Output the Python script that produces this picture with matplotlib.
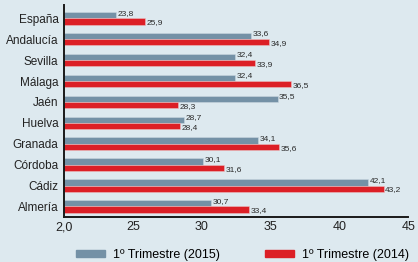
import matplotlib
matplotlib.use("Agg")
from matplotlib import pyplot as plt
from matplotlib.patches import Patch
import numpy as np

provincias = ["España", "Andalucía", "Sevilla", "Málaga", "Jaén",
              "Huelva", "Granada", "Córdoba", "Cádiz", "Almería"]
t2015 = [23.8, 33.6, 32.4, 32.4, 35.5, 28.7, 34.1, 30.1, 42.1, 30.7]
t2014 = [25.9, 34.9, 33.9, 36.5, 28.3, 28.4, 35.6, 31.6, 43.2, 33.4]
xticks = [20, 25, 30, 35, 40, 45]
xticklabels = ["2,0", "25", "30", "35", "40", "45"]

bg = "#dde9ef"
gris = "#7491a6"
rojo = "#dc1f26"
font = ["Liberation Sans Narrow", "Liberation Sans", "DejaVu Sans"]

fig = plt.figure(figsize=(4.18, 2.62), dpi=100, facecolor=bg)
ax = fig.add_axes([0.153, 0.172, 0.824, 0.81])
ax.set_facecolor(bg)

y = np.arange(len(provincias))
h = 0.3
ax.barh(y - h / 2, t2015, height=h, color=gris, edgecolor="#c9d6de", linewidth=0.4)
ax.barh(y + h / 2, t2014, height=h, color=rojo, edgecolor="#e9c0c0", linewidth=0.4)

for i in range(len(provincias)):
    ax.text(t2015[i] + 0.12, y[i] - h / 2 - 0.1, f"{t2015[i]:.1f}".replace(".", ","),
            fontsize=6, family=font, va="center", ha="left", color="#2a2a2a")
    ax.text(t2014[i] + 0.12, y[i] + h / 2 + 0.06, f"{t2014[i]:.1f}".replace(".", ","),
            fontsize=6, family=font, va="center", ha="left", color="#2a2a2a")

ax.set_xlim(20, 45)
ax.set_ylim(len(provincias) - 0.5, -0.65)
ax.set_yticks(y)
ax.set_yticklabels(provincias, family=font, fontsize=8.5, color="#222222")
ax.set_xticks(xticks)
ax.set_xticklabels(xticklabels, family=font, fontsize=9, color="#222222")
ax.tick_params(length=0, pad=3)
ax.tick_params(axis="y", pad=4)
for s in ["top", "right"]:
    ax.spines[s].set_visible(False)
for s in ["left", "bottom"]:
    ax.spines[s].set_color("#1a1a1a")
    ax.spines[s].set_linewidth(1.4)

handles = [Patch(color=gris, label="1º Trimestre (2015)"),
           Patch(color=rojo, label="1º Trimestre (2014)")]
fig.legend(handles=handles, loc="center", bbox_to_anchor=(0.58, 0.027), ncol=2,
           frameon=False, prop={"family": font, "size": 9}, handlelength=2.3,
           handleheight=0.5, columnspacing=3.6, handletextpad=0.65,
           borderaxespad=0, borderpad=0)

fig.savefig("out.png", dpi=100, facecolor=bg)
